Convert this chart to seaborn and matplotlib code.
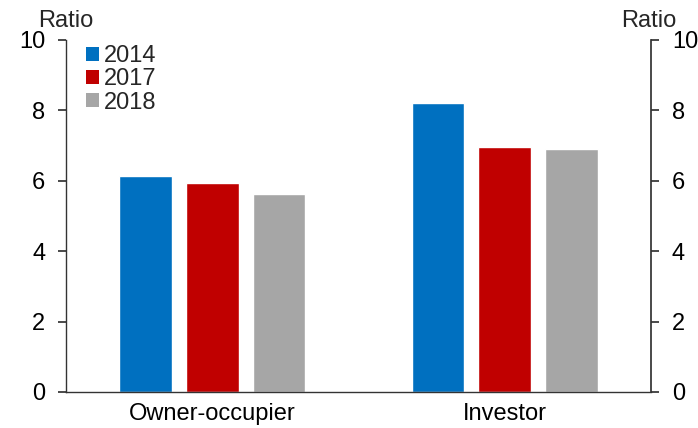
import matplotlib
matplotlib.use("Agg")
import matplotlib.pyplot as plt
import seaborn as sns
import pandas as pd
from matplotlib.patches import Patch

categories = ["Owner-occupier", "Investor"]
years = ["2014", "2017", "2018"]
values_2014 = [6.15, 8.22]
values_2017 = [5.93, 6.96]
values_2018 = [5.63, 6.9]
colors = ["#0070C0", "#C00000", "#A6A6A6"]
yticks = [0, 2, 4, 6, 8, 10]

rows = []
for yr, vals in zip(years, [values_2014, values_2017, values_2018]):
    for c, v in zip(categories, vals):
        rows.append({"cat": c, "year": yr, "value": v})
df = pd.DataFrame(rows)

sns.set_theme(style="white")
plt.rcParams["font.family"] = ["Liberation Sans", "DejaVu Sans"]

FS = 17

fig = plt.figure(figsize=(6.98, 4.28), dpi=100)
ax = fig.add_axes([66/698, 1-392/428, (651-66)/698, (392-40)/428])

sns.barplot(data=df, x="cat", y="value", hue="year", palette=colors,
            width=0.685, gap=0.21, ax=ax, legend=False, errorbar=None,
            saturation=1)

ax.set_xlim(-0.5, 1.5)
ax.set_ylim(0, 10)
ax.set_yticks(yticks)
ax.set_yticklabels([str(t) for t in yticks], fontsize=FS)
ax.set_xlabel("")
ax.set_ylabel("")
ax.tick_params(axis="x", length=0, labelsize=FS, pad=8, colors="black")
ax.set_xticks([-0.5, 0.5, 1.5], minor=True)
ax.tick_params(axis="x", which="minor", length=6, direction="out", color="#333333")
ax.tick_params(axis="y", length=6, direction="out", color="#333333", left=True,
               labelcolor="black", pad=9)

for s in ["top", "right"]:
    ax.spines[s].set_visible(False)
for s in ["left", "bottom"]:
    ax.spines[s].set_color("#333333")
    ax.spines[s].set_linewidth(1.0)

ax2 = ax.twinx()
ax2.set_ylim(0, 10)
ax2.set_yticks(yticks)
ax2.set_yticklabels([str(t) for t in yticks], fontsize=FS)
ax2.tick_params(axis="y", length=6, direction="out", color="#333333", right=True,
                labelcolor="black", pad=9)
for s in ["top", "left", "bottom"]:
    ax2.spines[s].set_visible(False)
ax2.spines["right"].set_color("#333333")
ax2.grid(False)
ax.grid(False)

fig.text(66/698, 1-21/428, "Ratio", ha="center", va="center", fontsize=FS)
fig.text(649/698, 1-21/428, "Ratio", ha="center", va="center", fontsize=FS)

handles = [Patch(facecolor=c, edgecolor="none") for c in colors]
leg = ax.legend(handles, years, loc="upper left", bbox_to_anchor=(0.018, 1.012),
                frameon=False, fontsize=FS, handlelength=0.55, handleheight=0.55,
                handletextpad=0.2, labelspacing=0.05, borderaxespad=0)

fig.savefig("out.png", dpi=100)
